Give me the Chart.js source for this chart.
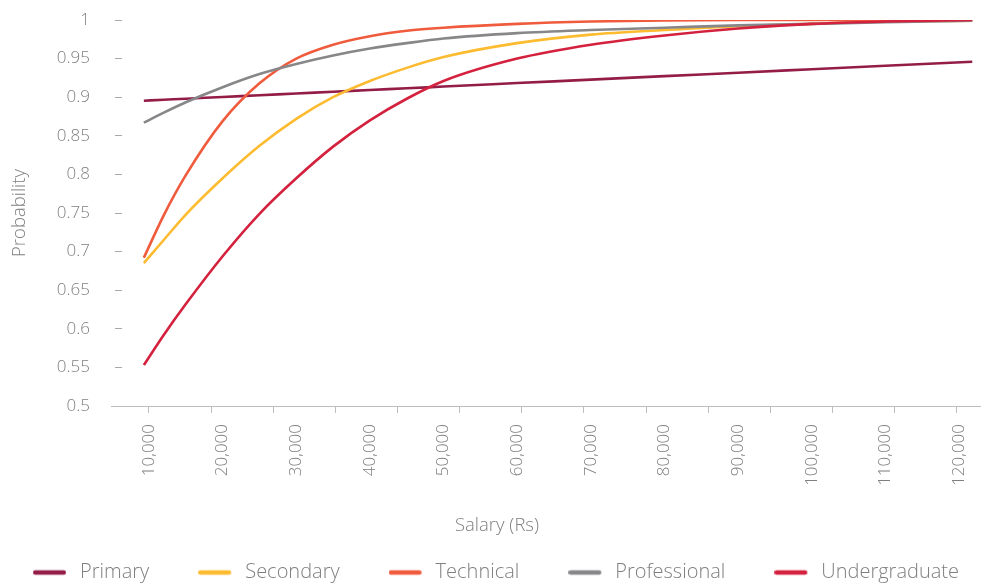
<!DOCTYPE html>
<html>
<head>
<meta charset="utf-8">
<script src="https://cdn.jsdelivr.net/npm/chart.js@4.4.1/dist/chart.umd.min.js"></script>
<style>
  html, body { margin: 0; padding: 0; background: #ffffff; }
  #wrap { width: 981px; height: 584px; position: relative; }
</style>
</head>
<body>
<div id="wrap"><canvas id="chart"></canvas></div>
<script>
// ---- data ----
const salary        = [9300, 12000, 15000, 20000, 25000, 30000, 35000, 40000, 45000, 50000, 60000, 70000, 80000, 90000, 100000, 110000, 121800];
const primary       = [0.8955, 0.8967, 0.8980, 0.9003, 0.9025, 0.9048, 0.9070, 0.9093, 0.9115, 0.9138, 0.9183, 0.9228, 0.9273, 0.9317, 0.9362, 0.9407, 0.9460];
const secondary     = [0.685, 0.715, 0.748, 0.795, 0.837, 0.872, 0.900, 0.921, 0.938, 0.952, 0.970, 0.981, 0.987, 0.992, 0.995, 0.998, 0.999];
const technical     = [0.692, 0.747, 0.799, 0.869, 0.918, 0.950, 0.968, 0.979, 0.986, 0.990, 0.995, 0.998, 0.9995, 1.000, 1.000, 1.000, 1.000];
const professional  = [0.867, 0.880, 0.8935, 0.913, 0.930, 0.943, 0.954, 0.963, 0.970, 0.976, 0.983, 0.987, 0.990, 0.993, 0.995, 0.997, 0.999];
const undergraduate = [0.553, 0.592, 0.632, 0.694, 0.749, 0.795, 0.836, 0.870, 0.898, 0.921, 0.950, 0.968, 0.980, 0.989, 0.995, 0.998, 1.000];

const seriesNames  = ['Primary', 'Secondary', 'Technical', 'Professional', 'Undergraduate'];
const seriesValues = [primary, secondary, technical, professional, undergraduate];
const seriesColors = ['#941d48', '#fdbb30', '#ef5b3c', '#87878a', '#d3213e'];

const xTickValues = [10000, 20000, 30000, 40000, 50000, 60000, 70000, 80000, 90000, 100000, 110000, 120000];
const yTickValues = [0.5, 0.55, 0.6, 0.65, 0.7, 0.75, 0.8, 0.85, 0.9, 0.95, 1];
const xTitle = 'Salary (Rs)';
const yTitle = 'Probability';

// ---- styling ----
const FONT = "'Open Sans', 'Liberation Sans', sans-serif";
const TEXT = '#7f7f7f';
const AXIS = '#bdbdbd';
const LEGEND_SIZE = 20;
Chart.defaults.font.family = FONT;
Chart.defaults.font.weight = '300';
Chart.defaults.color = TEXT;

function swatch(color) {
  const c = document.createElement('canvas');
  c.width = 47 - LEGEND_SIZE / 2; c.height = 8;
  const g = c.getContext('2d');
  g.strokeStyle = color; g.lineWidth = 4.5; g.lineCap = 'round';
  g.beginPath(); g.moveTo(2.25, 4); g.lineTo(30.75, 4); g.stroke();
  return c;
}
const swatches = seriesColors.map(swatch);

const datasets = seriesNames.map((name, i) => ({
  label: name,
  data: salary.map((s, k) => ({ x: s, y: seriesValues[i][k] })),
  borderColor: seriesColors[i],
  backgroundColor: seriesColors[i],
  borderWidth: 2.6,
  pointRadius: 0,
  pointHoverRadius: 0,
  fill: false,
  cubicInterpolationMode: 'monotone',
  order: seriesNames.length - i,
  xAxisID: 'x',
  yAxisID: 'y'
}));

new Chart(document.getElementById('chart'), {
  type: 'line',
  data: { datasets },
  options: {
    responsive: true,
    maintainAspectRatio: false,
    animation: false,
    events: [],
    layout: { padding: { left: -16, right: -29, top: 20, bottom: 0 } },
    scales: {
      xt: {
        type: 'linear', position: 'bottom', weight: 1,
        min: -0.6116, max: 13.375,
        afterBuildTicks: s => { const t = []; for (let k = 0; k <= 13; k++) t.push({ value: k }); s.ticks = t; },
        ticks: { display: false },
        grid: { display: true, drawOnChartArea: false, drawTicks: true, tickLength: 7, tickColor: AXIS, color: AXIS, tickWidth: 1 },
        border: { display: true, color: AXIS, width: 1 },
        afterFit: s => { s.height = 8; s.paddingLeft = 0; s.paddingRight = 0; }
      },
      x: {
        type: 'linear', position: 'bottom', weight: 2,
        min: 4840, max: 122852,
        afterBuildTicks: s => { s.ticks = xTickValues.map(v => ({ value: v })); },
        ticks: {
          autoSkip: false, minRotation: 90, maxRotation: 90, padding: 10,
          color: TEXT, font: { size: 17, weight: '300' },
          callback: v => Number(v).toLocaleString('en-US')
        },
        grid: { display: false, drawTicks: false },
        border: { display: false },
        afterFit: s => { s.height = 84; s.paddingLeft = 0; s.paddingRight = 0; }
      },
      y: {
        type: 'linear', position: 'left',
        min: 0.5, max: 1,
        afterBuildTicks: s => { s.ticks = yTickValues.map(v => ({ value: v })); },
        ticks: {
          padding: 21, color: TEXT, font: { size: 17, weight: '300' },
          callback: v => String(Number(Number(v).toFixed(2)))
        },
        grid: { display: true, drawOnChartArea: true, drawTicks: false, color: '#a9a9a9', lineWidth: 1 },
        border: { display: false, dash: [0, 4, 7, 3000] },
        title: {
          display: true, text: yTitle, color: TEXT,
          font: { size: 18.5, weight: '300', lineHeight: 1.2 },
          padding: { top: 25, bottom: 0 }
        },
        afterFit: s => { s.width = 127; s.paddingTop = 0; s.paddingBottom = 0; }
      },
      yr: {
        type: 'linear', position: 'right', display: true,
        ticks: { display: false }, grid: { display: false, drawTicks: false }, border: { display: false },
        afterFit: s => { s.width = 30; s.paddingTop = 0; s.paddingBottom = 0; }
      }
    },
    plugins: {
      tooltip: { enabled: false },
      title: {
        display: true, text: xTitle, position: 'bottom', weight: 500, align: 'center',
        color: TEXT, font: { size: 18.5, weight: '300', lineHeight: 1.2 },
        padding: { top: 16.4, bottom: -23.1 }
      },
      legend: {
        display: true, position: 'bottom', align: 'start', weight: 1000, maxHeight: 60.5 + LEGEND_SIZE / 2,
        labels: {
          usePointStyle: true, pointStyleWidth: 47 - LEGEND_SIZE / 2, boxHeight: 8,
          padding: 49, color: TEXT, font: { size: LEGEND_SIZE, weight: '300' },
          sort: (a, b) => a.datasetIndex - b.datasetIndex,
          generateLabels: chart => {
            const items = Chart.defaults.plugins.legend.labels.generateLabels(chart);
            items.forEach(it => { it.pointStyle = swatches[it.datasetIndex]; });
            return items;
          }
        }
      }
    }
  }
});
</script>
</body>
</html>
